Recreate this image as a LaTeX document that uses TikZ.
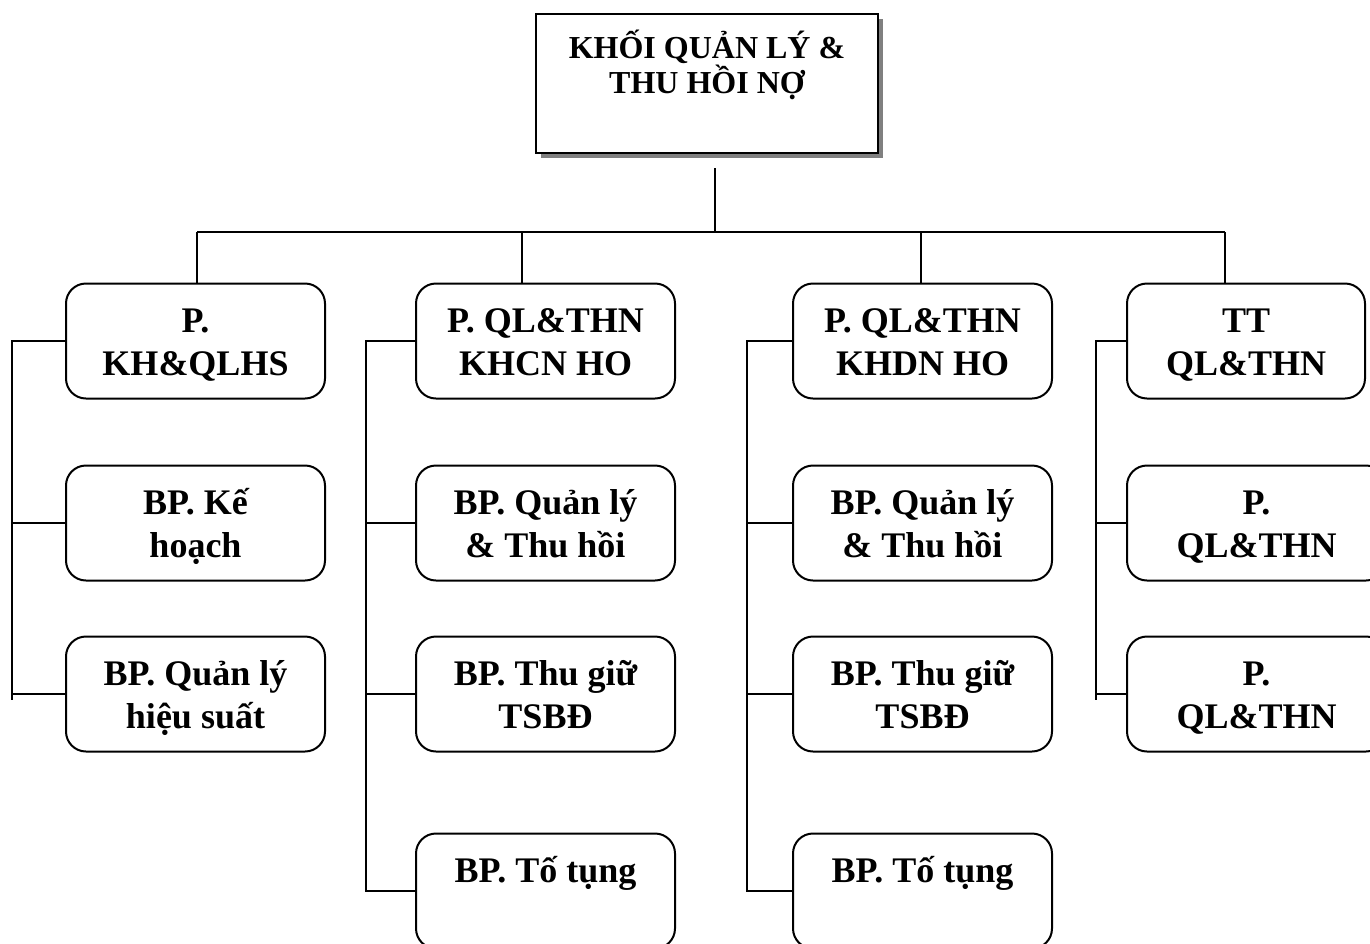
\documentclass[tikz,border=0pt]{standalone}
\usepackage{fontspec}
\setmainfont{Liberation Serif}
\usepackage{xcolor}
\definecolor{mainDark}{HTML}{000000}
\definecolor{shadowGray}{HTML}{808080}
\usepackage{tikz}
\usetikzlibrary{positioning,shadows}
\tikzset{%
  headBox/.style={%
    rectangle,
    draw=mainDark,
    line width=2pt,
    fill=white,
    minimum width=342pt,
    minimum height=139pt,
    text height=63pt,
    text depth=42pt,
    align=center,
    font=\bfseries\fontsize{32}{35}\selectfont,
    drop shadow={shadow xshift=5pt, shadow yshift=-5pt, fill=shadowGray, opacity=1}
  },
  unitBox/.style={%
    rectangle,
    rounded corners=20pt,
    draw=mainDark,
    line width=2pt,
    fill=white,
    minimum width=259pt,
    minimum height=115pt,
    text height=73pt,
    text depth=4pt,
    inner sep=2pt,
    align=center,
    font=\bfseries\fontsize{36}{43}\selectfont
  },
  linkLine/.style={%
    line width=1.5pt,
    color=mainDark
  }
}

\begin{document}
\begin{tikzpicture}
  \useasboundingbox[fill=white] (0,0) rectangle (1370pt,-943pt);
  \clip (0,0) rectangle (1370pt,-943pt);

  % head block
  \node[headBox] (khoi) at (707pt,-83pt) {KHỐI QUẢN LÝ \&\\THU HỒI NỢ};

  % first column
  \node[unitBox] (khqlhs) at (195.5pt,-341pt) {P.\\KH\&QLHS};
  \node[unitBox, below=65pt of khqlhs] (keHoach) {BP. Kế\\hoạch};
  \node[unitBox, below=54pt of keHoach] (hieuSuat) {BP. Quản lý\\hiệu suất};

  % second column
  \node[unitBox, right=89pt of khqlhs] (khcn) {P. QL\&THN\\KHCN HO};
  \node[unitBox, below=65pt of khcn] (khcnThuHoi) {BP. Quản lý\\\& Thu hồi};
  \node[unitBox, below=54pt of khcnThuHoi] (khcnThuGiu) {BP. Thu giữ\\TSBĐ};
  \node[unitBox, below=80pt of khcnThuGiu] (khcnToTung) {BP. Tố tụng\\\strut};

  % third column
  \node[unitBox, right=116pt of khcn] (khdn) {P. QL\&THN\\KHDN HO};
  \node[unitBox, below=65pt of khdn] (khdnThuHoi) {BP. Quản lý\\\& Thu hồi};
  \node[unitBox, below=54pt of khdnThuHoi] (khdnThuGiu) {BP. Thu giữ\\TSBĐ};
  \node[unitBox, below=80pt of khdnThuGiu] (khdnToTung) {BP. Tố tụng\\\strut};

  % fourth column
  \node[unitBox, minimum width=238pt, right=73pt of khdn] (ttQl) {TT\\QL\&THN};
  \node[unitBox, below=65pt of ttQl.south west, anchor=north west] (ttPhongA) {P.\\QL\&THN};
  \node[unitBox, below=54pt of ttPhongA] (ttPhongB) {P.\\QL\&THN};

  % bus from the head block
  \coordinate (stemTop) at (715pt,-168pt);
  \coordinate (busMid) at (715pt,-232pt);
  \coordinate (dropA) at (197pt,-232pt);
  \coordinate (dropB) at (522pt,-232pt);
  \coordinate (dropC) at (921pt,-232pt);
  \coordinate (dropD) at (1225pt,-232pt);
  \draw[linkLine] (stemTop) -- (busMid);
  \draw[linkLine] (dropA) -- (dropD);
  \foreach \d/\b in {dropA/khqlhs, dropB/khcn, dropC/khdn, dropD/ttQl}
    \draw[linkLine] (\d) -- (\d |- \b.north);

  % side spines
  \coordinate (spineA) at (12pt,-700pt);
  \coordinate (spineB) at (366pt,0pt);
  \coordinate (spineC) at (747pt,0pt);
  \coordinate (spineD) at (1096pt,-700pt);

  \draw[linkLine] (khqlhs.west) -| (spineA);
  \foreach \b in {keHoach, hieuSuat}
    \draw[linkLine] (\b.west) -- (\b.west -| spineA);

  \draw[linkLine] (khcn.west) -| (spineB |- khcnToTung.west) -- (khcnToTung.west);
  \foreach \b in {khcnThuHoi, khcnThuGiu}
    \draw[linkLine] (\b.west) -- (\b.west -| spineB);

  \draw[linkLine] (khdn.west) -| (spineC |- khdnToTung.west) -- (khdnToTung.west);
  \foreach \b in {khdnThuHoi, khdnThuGiu}
    \draw[linkLine] (\b.west) -- (\b.west -| spineC);

  \draw[linkLine] (ttQl.west) -| (spineD);
  \foreach \b in {ttPhongA, ttPhongB}
    \draw[linkLine] (\b.west) -- (\b.west -| spineD);
\end{tikzpicture}
\end{document}
